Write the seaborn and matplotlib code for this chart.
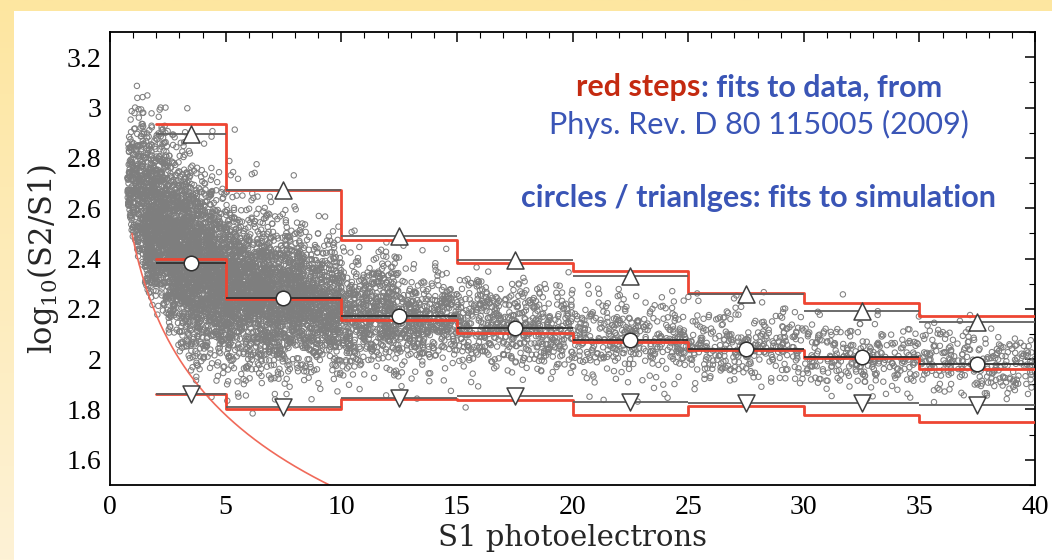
import numpy as np
import pandas as pd
import matplotlib
matplotlib.use("Agg")
import matplotlib.pyplot as plt
import seaborn as sns
from matplotlib.offsetbox import TextArea, HPacker, AnnotationBbox
from matplotlib.ticker import MultipleLocator
from matplotlib.colors import LinearSegmentedColormap
from matplotlib.patches import Rectangle

# ---------------- binned band fits (S1 in photoelectrons) ----------------
bin_edges = [2, 5, 10, 15, 20, 25, 30, 35, 40]
bin_centers = [3.5, 7.5, 12.5, 17.5, 22.5, 27.5, 32.5, 37.5]

# fits to data (red steps)
data_upper = [2.935, 2.672, 2.472, 2.384, 2.352, 2.264, 2.225, 2.172]
data_median = [2.397, 2.239, 2.155, 2.105, 2.068, 2.037, 2.004, 1.961]
data_lower = [1.862, 1.800, 1.841, 1.839, 1.779, 1.812, 1.779, 1.752]

# fits to simulation (triangles / circles)
sim_upper = [2.893, 2.672, 2.490, 2.396, 2.332, 2.259, 2.190, 2.148]
sim_median = [2.382, 2.245, 2.171, 2.124, 2.078, 2.041, 2.010, 1.981]
sim_lower = [1.862, 1.808, 1.845, 1.855, 1.830, 1.824, 1.826, 1.817]

# S2 analysis threshold (phe) -> lower edge of the accessible band
S2_MIN = 300.0

# simulated event cloud, described slice by slice in S1
cloud_edges = [0.75, 1.5, 2.5, 3.5, 4.5, 5.5, 7, 8.5, 10, 12.5, 15,
               17.5, 20, 22.5, 25, 27.5, 30, 32.5, 35, 37.5, 40]
cloud_center = [2.68, 2.54, 2.43, 2.36, 2.31, 2.27, 2.24, 2.21, 2.18, 2.16,
                2.14, 2.12, 2.09, 2.075, 2.055, 2.04, 2.025, 2.01, 1.995, 1.98]
cloud_width = [0.16, 0.17, 0.18, 0.17, 0.16, 0.145, 0.135, 0.125, 0.11, 0.10,
               0.095, 0.09, 0.085, 0.08, 0.075, 0.075, 0.07, 0.07, 0.065, 0.065]
cloud_count = [340, 820, 880, 820, 720, 900, 720, 560, 580, 400,
               290, 250, 175, 160, 150, 140, 125, 120, 120, 120]

rng = np.random.default_rng(7)
xs, ys = [], []
for lo, hi, mu, sd, n in zip(cloud_edges[:-1], cloud_edges[1:],
                             cloud_center, cloud_width, cloud_count):
    x = rng.uniform(lo, hi, n)
    y = rng.normal(mu, sd, n)
    keep = y > np.log10(S2_MIN) - np.log10(x)
    xs.append(x[keep])
    ys.append(y[keep])
events = pd.DataFrame({"s1": np.concatenate(xs), "logratio": np.concatenate(ys)})

# ---------------- figure ----------------
sns.set_theme(style="white")
plt.rcParams["mathtext.fontset"] = "dejavuserif"
plt.rcParams["font.family"] = ["Liberation Serif", "DejaVu Serif"]

fig = plt.figure(figsize=(10.52, 5.60), dpi=100)

# slide-style backdrop: soft yellow gradient behind a white panel
bg = fig.add_axes([0, 0, 1, 1], zorder=-10)
bg.axis("off")
grad = LinearSegmentedColormap.from_list("bg", ["#FDE6A0", "#FEF2D6"])
bg.imshow(np.linspace(0, 1, 256)[:, None], aspect="auto", cmap=grad,
          extent=(0, 1, 0, 1), origin="upper")
bg.add_patch(Rectangle((14 / 1052, 0), 1, 1 - 11 / 560, facecolor="white",
                       edgecolor="none"))
bg.set_xlim(0, 1)
bg.set_ylim(0, 1)

ax = fig.add_axes([110 / 1052, 75 / 560, 925 / 1052, 453 / 560])
ax.set_facecolor("white")

sns.scatterplot(data=events, x="s1", y="logratio", ax=ax, marker="o",
                s=15, facecolor="none", edgecolor="#7E7E7E", linewidth=0.75,
                zorder=1, legend=False)

# threshold curve
curve_x = np.linspace(0.95, 10, 200)
ax.plot(curve_x, np.log10(S2_MIN) - np.log10(curve_x), color="#F06A5A",
        lw=1.2, zorder=2)

# data fits as red steps
red = "#EE4532"
for vals in (data_upper, data_median, data_lower):
    sns.lineplot(x=bin_edges, y=vals + [vals[-1]], ax=ax, color=red, lw=2.0,
                 drawstyle="steps-post", estimator=None, sort=False, zorder=3)

# simulation fits: horizontal bin bars with markers
for vals, col in ((sim_upper, "#606060"), (sim_median, "#303030"),
                  (sim_lower, "#606060")):
    ax.hlines(vals, bin_edges[:-1], bin_edges[1:], colors=col, lw=1.3, zorder=4)

sns.scatterplot(x=bin_centers, y=sim_upper, ax=ax, marker="^", s=150,
                facecolor="white", edgecolor="#404040", linewidth=1.1,
                zorder=5, legend=False)
sns.scatterplot(x=bin_centers, y=sim_lower, ax=ax, marker="v", s=150,
                facecolor="white", edgecolor="#404040", linewidth=1.1,
                zorder=5, legend=False)
sns.scatterplot(x=bin_centers, y=sim_median, ax=ax, marker="o", s=110,
                facecolor="white", edgecolor="#303030", linewidth=1.1,
                zorder=5, legend=False)

# axes
ax.set_xlim(0, 40)
ax.set_ylim(1.5, 3.3)
ax.xaxis.set_major_locator(MultipleLocator(5))
ax.xaxis.set_minor_locator(MultipleLocator(1))
ax.yaxis.set_major_locator(MultipleLocator(0.2))
ax.yaxis.set_minor_locator(MultipleLocator(0.1))
ax.set_yticks([1.6, 1.8, 2.0, 2.2, 2.4, 2.6, 2.8, 3.0, 3.2])
ax.set_yticklabels(["1.6", "1.8", "2", "2.2", "2.4", "2.6", "2.8", "3", "3.2"])
ax.tick_params(which="both", direction="in", top=True, right=True,
               color="black", labelsize=20, labelcolor="black")
ax.tick_params(which="major", length=7, width=1.1)
ax.tick_params(which="minor", length=4, width=0.8)
ax.tick_params(axis="x", pad=7)
ax.tick_params(axis="y", pad=6)
for sp in ax.spines.values():
    sp.set_color("black")
    sp.set_linewidth(1.3)

ax.set_xlabel("S1 photoelectrons", family=["DejaVu Serif"], fontsize=21,
              labelpad=3)
ax.set_ylabel("log$_{10}$(S2/S1)", family=["DejaVu Serif"], fontsize=22,
              labelpad=4)

# annotation text
blue = "#3A55B6"
sans = ["Lato", "DejaVu Sans"]
fs = 22
line1 = HPacker(children=[
    TextArea("red steps", textprops=dict(color="#C42A10", fontsize=fs,
                                         fontweight="bold", family=sans)),
    TextArea(": fits to data, from", textprops=dict(color=blue, fontsize=fs,
                                                    fontweight="bold", family=sans)),
], align="baseline", pad=0, sep=0)
ax.add_artist(AnnotationBbox(line1, (0.7016, 0.878), xycoords="axes fraction",
                             frameon=False, box_alignment=(0.5, 0.5), zorder=6))
ax.text(0.7016, 0.795, "Phys. Rev. D 80 115005 (2009)", transform=ax.transAxes,
        ha="center", va="center", color=blue, fontsize=fs, family=sans, zorder=6)
ax.text(0.7016, 0.634, "circles / trianlges: fits to simulation",
        transform=ax.transAxes, ha="center", va="center", color=blue,
        fontsize=fs, fontweight="bold", family=sans, zorder=6)

fig.savefig("out.png", dpi=100)
